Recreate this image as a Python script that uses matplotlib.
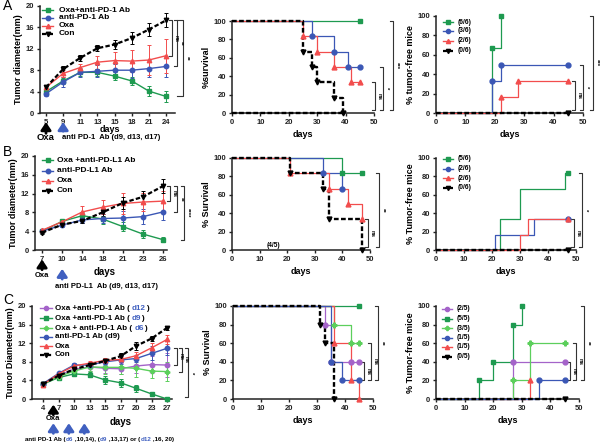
import numpy as np
import matplotlib
matplotlib.use('Agg')
import matplotlib.pyplot as plt

plt.rcParams['font.family'] = ['Liberation Sans', 'DejaVu Sans']
plt.rcParams['font.weight'] = 'bold'

# ---------------- DATA ----------------
A_days = [5, 9, 11, 13, 15, 18, 21, 24]
A_combo = [4.0, 6.0, 7.6, 7.6, 6.9, 6.0, 4.1, 3.1]
A_combo_err = [0.4, 0.6, 0.6, 0.6, 0.7, 0.8, 0.9, 1.0]
A_pd1 = [3.6, 5.8, 7.6, 7.8, 8.0, 8.0, 8.3, 8.7]
A_pd1_err = [0.5, 1.0, 0.8, 1.1, 1.2, 1.5, 1.6, 2.0]
A_oxa = [4.8, 7.4, 8.5, 9.5, 9.8, 9.7, 9.9, 10.7]
A_oxa_err = [0.5, 0.6, 0.7, 1.2, 1.6, 2.1, 2.8, 3.2]
A_con = [4.8, 8.2, 10.3, 12.1, 12.8, 14.0, 15.6, 17.3]
A_con_err = [0.5, 0.5, 0.6, 0.6, 0.8, 1.1, 1.3, 1.3]

B_days = [7, 10, 14, 18, 21, 23, 26]
B_combo = [4.0, 6.1, 7.3, 6.6, 5.0, 3.4, 2.2]
B_combo_err = [0.3, 0.4, 0.7, 1.0, 1.0, 0.9, 0.6]
B_pdl1 = [4.0, 5.3, 6.4, 6.7, 6.8, 7.1, 8.1]
B_pdl1_err = [0.3, 0.3, 0.6, 1.0, 1.4, 1.6, 1.8]
B_oxa = [4.2, 6.0, 8.1, 9.1, 9.9, 10.2, 10.4]
B_oxa_err = [0.3, 0.5, 1.2, 1.5, 2.2, 2.0, 2.2]
B_con = [3.7, 5.4, 6.2, 8.0, 10.0, 11.3, 13.6]
B_con_err = [0.3, 0.3, 0.5, 0.8, 1.2, 1.3, 1.5]

C_days = [4, 7, 10, 13, 15, 17, 20, 23, 27]
C_d12 = [3.2, 5.0, 6.4, 6.9, 6.6, 6.5, 7.1, 7.4, 7.3]
C_d12_err = [0.2, 0.3, 0.5, 0.8, 1.0, 1.2, 1.5, 1.8, 2.5]
C_d9 = [3.2, 4.6, 5.4, 5.2, 4.1, 3.5, 2.3, 1.1, 0.0]
C_d9_err = [0.2, 0.3, 0.4, 0.5, 0.8, 0.9, 0.8, 0.3, 0.1]
C_d6 = [3.2, 4.8, 6.0, 6.9, 6.8, 6.8, 6.6, 6.0, 5.9]
C_d6_err = [0.2, 0.3, 0.5, 0.8, 1.5, 1.5, 1.8, 1.5, 2.0]
C_pd1 = [3.3, 5.5, 7.3, 7.3, 8.0, 8.4, 8.7, 9.8, 10.9]
C_pd1_err = [0.2, 0.4, 0.5, 0.5, 0.6, 0.8, 0.8, 1.5, 1.5]
C_oxa = [3.1, 5.4, 7.1, 7.7, 8.3, 8.5, 9.3, 11.0, 12.8]
C_oxa_err = [0.2, 0.4, 0.5, 0.5, 0.5, 0.6, 0.8, 1.0, 1.0]
C_con = [3.2, 5.0, 6.4, 7.3, 8.2, 9.2, 11.4, 13.0, 15.3]
C_con_err = [0.2, 0.4, 0.4, 0.5, 0.5, 0.6, 0.8, 0.6, 0.5]

# Kaplan-Meier style curves: (times, values)
A_surv = {
    'combo': ([0, 45], [100, 100]),
    'pd1': ([0, 28, 36, 41, 45], [100, 83.3, 66.7, 50, 50]),
    'oxa': ([0, 25, 30, 36, 42, 45], [100, 83.3, 66.7, 50, 33.3, 33.3]),
    'con': ([0, 25, 28, 30, 36, 39], [100, 66.7, 50, 33.3, 16.7, 0]),
}
A_free = {
    'combo': ([0, 19, 22], [0, 66.7, 100]),
    'pd1': ([0, 19, 22, 45], [0, 33.3, 50, 50]),
    'oxa': ([0, 22, 28, 45], [0, 16.7, 33.3, 33.3]),
    'con': ([0, 45], [0, 0]),
}
A_free_labels = ['(6/6)', '(3/6)', '(2/6)', '(0/6)']

B_surv = {
    'combo': ([0, 40, 47], [100, 83.3, 83.3]),
    'pdl1': ([0, 33, 40], [100, 83.3, 66.7]),
    'oxa': ([0, 21, 35, 42, 47], [100, 83.3, 66.7, 50, 33.3]),
    'con': ([0, 21, 33, 35, 47], [100, 83.3, 66.7, 33.3, 0]),
}
B_free = {
    'combo': ([0, 23, 30, 46, 47], [0, 33.3, 66.7, 83.3, 83.3]),
    'pdl1': ([0, 21, 35, 47], [0, 16.7, 33.3, 33.3]),
    'oxa': ([0, 30, 33, 47], [0, 16.7, 33.3, 33.3]),
    'con': ([0, 47], [0, 0]),
}
B_free_labels = ['(5/6)', '(2/6)', '(2/6)', '(0/6)']

C_surv = {
    'd12': ([0, 33, 35, 42, 45], [100, 80, 40, 40, 40]),
    'd9': ([0, 45], [100, 100]),
    'd6': ([0, 36, 42, 45], [100, 80, 60, 60]),
    'pd1': ([0, 35, 39, 45], [100, 40, 20, 20]),
    'oxa': ([0, 36, 42, 45], [100, 60, 20, 0]),
    'con': ([0, 31, 33, 36], [100, 80, 60, 0]),
}
C_free = {
    'd12': ([0, 27, 45], [0, 40, 40]),
    'd9': ([0, 15, 20, 27, 30], [0, 20, 40, 80, 100]),
    'd6': ([0, 27, 33, 45], [0, 20, 60, 60]),
    'pd1': ([0, 36, 45], [0, 20, 20]),
    'oxa': ([0, 33], [0, 20]),
    'con': ([0, 45], [0, 0]),
}
C_free_labels = ['(2/5)', '(5/5)', '(3/5)', '(1/5)', '(1/5)', '(0/5)']

# ---------------- STYLE ----------------
GREEN = '#1e9a50'
BLUE = '#3b57b5'
RED = '#f24d4d'
BLACK = '#000000'
LGREEN = '#5ccf5c'
PURPLE = '#a463c9'
DARKTXT = '#4060c0'

STY = {
    'combo': (GREEN, 's', '-'), 'pd1': (BLUE, 'o', '-'), 'pdl1': (BLUE, 'o', '-'),
    'oxa': (RED, '^', '-'), 'con': (BLACK, 'v', '--'),
    'd12': (PURPLE, 'o', '-'), 'd9': (GREEN, 's', '-'), 'd6': (LGREEN, 'P', '-'),
}

W, H = 600, 445
fig = plt.figure(figsize=(6.0, 4.45), dpi=100)


def add_ax(box):
    x0, y0, x1, y1 = box
    ax = fig.add_axes([x0 / W, 1 - y1 / H, (x1 - x0) / W, (y1 - y0) / H])
    for s in ('top', 'right'):
        ax.spines[s].set_visible(False)
    for s in ('left', 'bottom'):
        ax.spines[s].set_linewidth(1.1)
        ax.spines[s].set_color('#222222')
    ax.tick_params(labelsize=5.5, length=2.5, width=1.0, pad=1.5, colors='#222222')
    for lab in ax.get_xticklabels() + ax.get_yticklabels():
        lab.set_fontweight('bold')
    return ax


def fr(box, px, py):
    x0, y0, x1, y1 = box
    return (px - x0) / (x1 - x0), (y1 - py) / (y1 - y0)


def bracket(ax, box, px, ya, yb, text, tick=3, fs=4.3):
    x0, y0, x1, y1 = box
    w = x1 - x0
    fx = (px - x0) / w
    ft = (px - tick - x0) / w
    tr = ax.get_yaxis_transform()
    ax.plot([ft, fx, fx, ft], [ya, ya, yb, yb], transform=tr, color='#333333',
            lw=0.8, clip_on=False)
    ax.text(fx + 1.5 / w, (ya + yb) / 2, text, transform=tr, rotation=270,
            ha='left', va='center', fontsize=fs, fontweight='bold')


def legend(ax, box, entries, hx0, hx1, tx, ys, fs=6.0, ms=3.2):
    for (parts, key), py in zip(entries, ys):
        color, marker, ls = STY[key]
        a0, fy = fr(box, hx0, py)
        a1, _ = fr(box, hx1, py)
        t0, _ = fr(box, tx, py)
        lw = 1.6 if key == 'con' else 1.0
        ax.plot([a0, a1], [fy, fy], color=color, ls=ls, lw=lw, transform=ax.transAxes,
                clip_on=False, dashes=(2, 1) if ls == '--' else (None, None))
        ax.plot([(a0 + a1) / 2], [fy], marker=marker, color=color, ms=ms,
                transform=ax.transAxes, clip_on=False)
        prev = None
        for txt, col in parts:
            if prev is None:
                prev = ax.text(t0, fy, txt, transform=ax.transAxes, fontsize=fs,
                               fontweight='bold', color=col, ha='left', va='center')
            else:
                prev = ax.annotate(txt, xy=(1, 0), xycoords=prev, fontsize=fs,
                                   fontweight='bold', color=col, ha='left', va='bottom')


def tumor(ax, days, series, ylabel):
    x = np.arange(len(days))
    for key, mean, err in series:
        color, marker, ls = STY[key]
        lw = 1.6 if key == 'con' else 1.0
        eb = ax.errorbar(x, mean, yerr=err, color=color, marker=marker, ms=3.2,
                         lw=lw, ls=ls, capsize=1.5, elinewidth=0.7, capthick=0.7,
                         clip_on=False, zorder=3)
        if ls == '--':
            eb.lines[0].set_dashes((2, 1))
    ax.set_ylim(0, 20)
    ax.set_yticks([0, 4, 8, 12, 16, 20])
    ax.set_xticks(x)
    ax.set_xticklabels([str(d) for d in days])
    ax.set_ylabel(ylabel, fontsize=6.5, fontweight='bold', labelpad=2)
    return x


def km(ax, curves, order, marks='events', xmax=50):
    for key in order:
        t, s = curves[key]
        color, marker, ls = STY[key]
        lw = 1.7 if key == 'con' else 0.9
        ln, = ax.step(t, s, where='post', color=color, lw=lw, ls=ls, clip_on=False,
                      zorder=4 if key == 'con' else 3)
        if ls == '--':
            ln.set_dashes((2, 1))
        if marks == 'events':
            mt, mv = t[1:], s[1:]
        else:
            mt, mv = t[-1:], s[-1:]
        ax.plot(mt, mv, ls='none', marker=marker, color=color, ms=3.5, clip_on=False,
                zorder=5)
    ax.set_xlim(0, xmax)
    ax.set_ylim(0, 100)
    ax.set_xticks([0, 10, 20, 30, 40, 50])
    ax.set_yticks([0, 20, 40, 60, 80, 100])
    ax.set_xlabel('days', fontsize=6.5, fontweight='bold', labelpad=3)


def arrow(ax, xv, ytip, ytail, color):
    tr = ax.get_xaxis_transform()
    ax.annotate('', xy=(xv, ytip), xycoords=tr, xytext=(xv, ytail), textcoords=tr,
                arrowprops=dict(arrowstyle='-|>,head_width=0.3,head_length=0.45',
                                color=color, lw=2.0, mutation_scale=10,
                                shrinkA=0, shrinkB=0))


# ================= ROW A =================
bA1 = (40, 6, 175, 113)
ax = add_ax(bA1)
x = tumor(ax, A_days, [('combo', A_combo, A_combo_err), ('pd1', A_pd1, A_pd1_err),
                       ('oxa', A_oxa, A_oxa_err), ('con', A_con, A_con_err)],
          'Tumor diameter(mm)')
ax.set_xlim(-0.35, 7.53)
legend(ax, bA1, [([('Oxa+anti-PD-1 Ab', BLACK)], 'combo'), ([('anti-PD-1 Ab', BLACK)], 'pd1'),
                 ([('Oxa', BLACK)], 'oxa'), ([('Con', BLACK)], 'con')],
       42, 53, 59, [10, 17.5, 25.5, 33.5])
bracket(ax, bA1, 172, A_con[-1], A_oxa[-1], 'ns')
bracket(ax, bA1, 177, A_con[-1], A_pd1[-1], '**')
bracket(ax, bA1, 183, A_con[-1], A_combo[-1], '**', tick=6)
ax.text(0.52, -0.155, 'days', transform=ax.transAxes, fontsize=6.5, fontweight='bold',
        ha='center', va='center')
arrow(ax, np.interp(5, A_days, x), -0.085, -0.19, BLACK)
arrow(ax, np.interp(9, A_days, x), -0.085, -0.17, DARKTXT)
ax.text(0, -0.225, 'Oxa', transform=ax.get_xaxis_transform(), fontsize=6.8,
        fontweight='bold', ha='center', va='center')
ax.text(0.165, -0.23, 'anti PD-1  Ab (d9, d13, d17)', transform=ax.transAxes,
        fontsize=5.5, fontweight='bold', ha='left', va='center')
fig.text(3 / W, 1 - 6 / H, 'A', fontsize=10, fontweight='normal', va='center')

bA2 = (232, 21, 374, 113)
ax = add_ax(bA2)
km(ax, A_surv, ['combo', 'pd1', 'oxa', 'con'])
ax.plot([A_surv['con'][0][0], A_surv['con'][0][-1]], [A_surv['con'][1][-1]] * 2,
        color=BLACK, lw=1.7, dashes=(2, 1), clip_on=False, zorder=4)
ax.set_ylabel('%survival', fontsize=6.5, fontweight='bold', labelpad=2)
bracket(ax, bA2, 375, 33.3, 3, 'ns')
bracket(ax, bA2, 383, 50, 3, '*')
bracket(ax, bA2, 393, 100, 3, '***')

bA3 = (436, 16, 583, 113)
ax = add_ax(bA3)
km(ax, A_free, ['combo', 'pd1', 'oxa', 'con'])
ax.set_ylabel('% tumor-free mice', fontsize=6.5, fontweight='bold', labelpad=2)
legend(ax, bA3, [([(l, BLACK)], k) for l, k in zip(A_free_labels, ['combo', 'pd1', 'oxa', 'con'])],
       443, 453, 458, [22, 31, 41, 51], fs=4.8, ms=3.0)
bracket(ax, bA3, 575, 33.3, 3, 'ns')
bracket(ax, bA3, 583, 50, 3, '*')
bracket(ax, bA3, 593, 100, 3, '***')

# ================= ROW B =================
bB1 = (35, 156, 167, 250)
ax = add_ax(bB1)
x = tumor(ax, B_days, [('combo', B_combo, B_combo_err), ('pdl1', B_pdl1, B_pdl1_err),
                       ('oxa', B_oxa, B_oxa_err), ('con', B_con, B_con_err)],
          'Tumor diameter(mm)')
ax.set_xlim(-0.35, 6.2)
legend(ax, bB1, [([('Oxa +anti-PD-L1 Ab', BLACK)], 'combo'), ([('anti-PD-L1 Ab', BLACK)], 'pdl1'),
                 ([('Oxa', BLACK)], 'oxa'), ([('Con', BLACK)], 'con')],
       42, 53, 57, [160, 170.5, 181, 191])
bracket(ax, bB1, 170, B_con[-1], B_oxa[-1], 'ns')
bracket(ax, bB1, 177, B_con[-1], B_pdl1[-1], '**')
bracket(ax, bB1, 184, B_con[-1], B_combo[-1], '****')
ax.text(0.53, -0.235, 'days', transform=ax.transAxes, fontsize=7, fontweight='bold',
        ha='center', va='center')
arrow(ax, np.interp(7, B_days, x), -0.1, -0.21, BLACK)
arrow(ax, np.interp(10, B_days, x), -0.2, -0.31, DARKTXT)
ax.text(0, -0.27, 'Oxa', transform=ax.get_xaxis_transform(), fontsize=5.5,
        fontweight='bold', ha='center', va='center')
ax.text(0.15, -0.385, 'anti PD-L1  Ab (d9, d13, d17)', transform=ax.transAxes,
        fontsize=5.5, fontweight='bold', ha='left', va='center')
fig.text(3 / W, 1 - 152 / H, 'B', fontsize=10, fontweight='normal', va='center')

bB2 = (232, 158, 370, 250)
ax = add_ax(bB2)
km(ax, B_surv, ['combo', 'pdl1', 'oxa', 'con'])
ax.set_ylabel('% Survival', fontsize=6.5, fontweight='bold', labelpad=2)
ax.text(15, 5, '(4/5)', fontsize=4.8, fontweight='bold', ha='center', va='center')
bracket(ax, bB2, 368, 33.3, 3, 'ns')
bracket(ax, bB2, 379, 83.3, 3, '**')

bB3 = (436, 158, 576, 250)
ax = add_ax(bB3)
km(ax, B_free, ['combo', 'pdl1', 'oxa', 'con'], marks='end')
ax.set_ylabel('% Tumor-free mice', fontsize=6.5, fontweight='bold', labelpad=2)
legend(ax, bB3, [([(l, BLACK)], k) for l, k in zip(B_free_labels, ['combo', 'pdl1', 'oxa', 'con'])],
       443, 453, 458, [159, 168.5, 178, 187.5], fs=4.8, ms=3.0)
bracket(ax, bB3, 574, 33.3, 3, 'ns')
bracket(ax, bB3, 582, 83.3, 3, '*')

# ================= ROW C =================
bC1 = (32, 306, 172, 399)
ax = add_ax(bC1)
x = tumor(ax, C_days, [('d12', C_d12, C_d12_err), ('d9', C_d9, C_d9_err),
                       ('d6', C_d6, C_d6_err), ('pd1', C_pd1, C_pd1_err),
                       ('oxa', C_oxa, C_oxa_err), ('con', C_con, C_con_err)],
          'Tumor Diameter(mm)')
ax.set_xlim(-0.71, 8.32)
legend(ax, bC1, [([('Oxa +anti-PD-1 Ab ( ', BLACK), ('d12', DARKTXT), (')', BLACK)], 'd12'),
                 ([('Oxa +anti-PD-1 Ab ( ', BLACK), ('d9', DARKTXT), (')', BLACK)], 'd9'),
                 ([('Oxa + anti-PD-1 Ab ( ', BLACK), ('d6', DARKTXT), (')', BLACK)], 'd6'),
                 ([('anti-PD-1 Ab (d9)', BLACK)], 'pd1'),
                 ([('Oxa', BLACK)], 'oxa'), ([('Con', BLACK)], 'con')],
       40, 52, 55, [308, 318, 328, 337, 346, 355], fs=5.8, ms=3.0)
bracket(ax, bC1, 177, C_pd1[-1], C_d12[-1], 'ns')
bracket(ax, bC1, 182, C_pd1[-1], C_d6[-1], 'ns')
bracket(ax, bC1, 188, C_pd1[-1], C_d9[-1] + 0.4, '*')
ax.text(0.63, -0.245, 'days', transform=ax.transAxes, fontsize=7, fontweight='bold',
        ha='center', va='center')
arrow(ax, np.interp(6, C_days, x), -0.06, -0.17, BLACK)
ax.text(np.interp(6, C_days, x), -0.205, 'Oxa', transform=ax.get_xaxis_transform(),
        fontsize=5.5, fontweight='bold', ha='center', va='center')
for d in (6, 9, 12):
    arrow(ax, np.interp(d, C_days, x), -0.26, -0.37, DARKTXT)
parts = [('anti PD-1 Ab (', BLACK), ('d6', DARKTXT), (' ,10,14), (', BLACK), ('d9', DARKTXT),
         (' ,13,17) or (', BLACK), ('d12', DARKTXT), (' ,16, 20)', BLACK)]
prev = None
for txt, col in parts:
    if prev is None:
        prev = ax.text(-0.05, -0.44, txt, transform=ax.transAxes, fontsize=4.5,
                       fontweight='bold', color=col, ha='left', va='center')
    else:
        prev = ax.annotate(txt, xy=(1, 0), xycoords=prev, fontsize=4.5, fontweight='bold',
                           color=col, ha='left', va='bottom')
fig.text(3 / W, 1 - 300 / H, 'C', fontsize=10, fontweight='normal', va='center')

bC2 = (233, 306, 373, 399)
ax = add_ax(bC2)
km(ax, C_surv, ['d9', 'd6', 'd12', 'oxa', 'pd1', 'con'])
ax.set_ylabel('% Survival', fontsize=6.5, fontweight='bold', labelpad=2)
bracket(ax, bC2, 364, 40, 20, 'ns')
bracket(ax, bC2, 371, 60, 20, 'ns')
bracket(ax, bC2, 378, 100, 20, '**')

bC3 = (436, 306, 579, 399)
ax = add_ax(bC3)
km(ax, C_free, ['d12', 'd6', 'd9', 'oxa', 'pd1', 'con'])
ax.set_ylabel('% Tumor-free mice', fontsize=6.5, fontweight='bold', labelpad=2)
legend(ax, bC3, [([(l, BLACK)], k) for l, k in zip(C_free_labels, ['d12', 'd9', 'd6', 'pd1', 'oxa', 'con'])],
       442, 452, 457, [309, 318.5, 328, 337.5, 347, 356.5], fs=4.8, ms=3.0)
bracket(ax, bC3, 570, 40, 20, 'ns')
bracket(ax, bC3, 576, 60, 20, 'ns')
bracket(ax, bC3, 584, 100, 20, '**')

fig.savefig('out.png', dpi=100)
